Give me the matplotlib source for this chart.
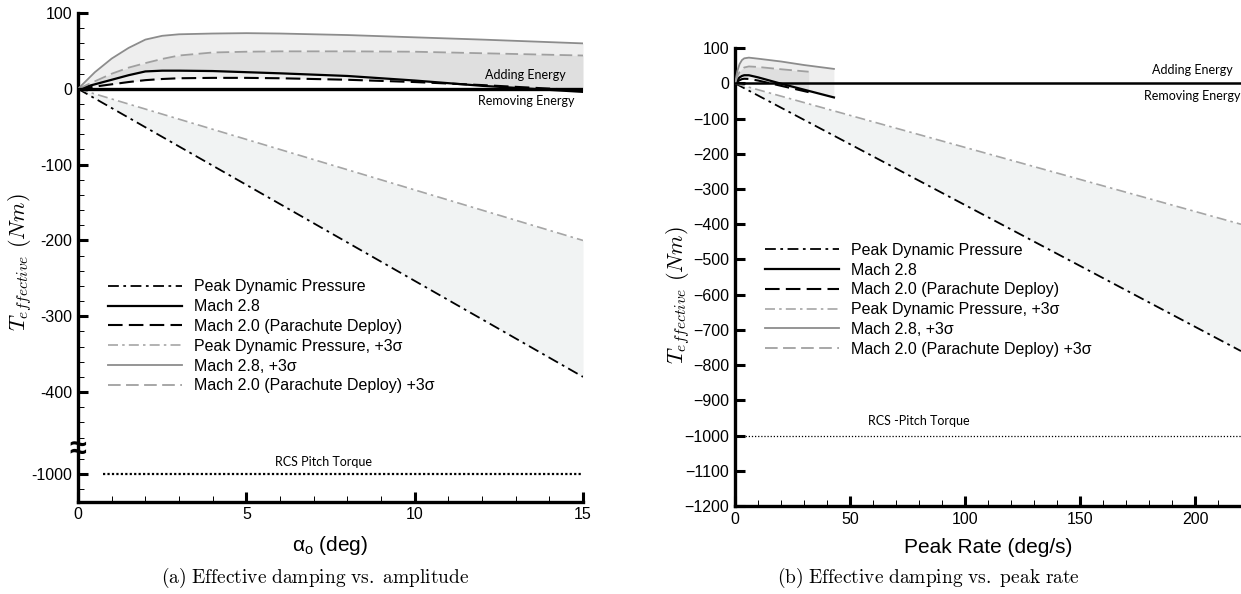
import matplotlib
matplotlib.use("Agg")
import matplotlib.pyplot as plt
import numpy as np
from matplotlib.lines import Line2D
from matplotlib.ticker import FixedLocator, MultipleLocator

plt.rcParams["font.family"] = ["Liberation Sans", "DejaVu Sans"]
plt.rcParams["mathtext.fontset"] = "cm"

# (a) effective damping torque vs. oscillation amplitude (deg)
ALPHA = [0, 0.5, 1, 1.5, 2, 2.5, 3, 4, 5, 6, 8, 10, 12, 15]
M28_A = [0, 6, 12, 18, 23, 24, 24, 23.5, 22, 20.5, 17, 11, 4, -4]
M20_A = [0, 3, 6, 9, 11.5, 13, 14, 14.5, 14.5, 14, 12, 9, 5, -2]
M28_3S_A = [0, 22, 40, 54, 65, 70, 72, 73, 73.5, 73, 71, 68, 65, 60]
M20_3S_A = [0, 10, 20, 28, 34, 39.5, 44, 48, 49, 49.5, 49.5, 49, 47, 44]
QBAR_X_A = [0, 15]
QBAR_A = [0, -380]
QBAR_3S_A = [0, -200]

# (b) effective damping torque vs. peak pitch rate (deg/s)
RATE_M28 = [0, 1, 2, 3, 4, 6, 10, 20, 30, 43]
M28_B = [0, 10, 17, 21, 23, 23, 17, -1, -18, -40]
M28_3S_B = [0, 35, 55, 66, 71, 73, 70, 62, 52, 41]
RATE_M20 = [0, 1, 2, 3, 4, 6, 10, 20, 32]
M20_B = [0, 5, 9, 12, 13, 12.5, 8, -7, -25]
M20_3S_B = [0, 20, 33, 41, 45, 48, 46.5, 40, 33]
QBAR_X_B = [0, 220]
QBAR_B = [0, -760]
QBAR_3S_B = [0, -400]

RCS_TORQUE = -1000
LABELS = [
    "Peak Dynamic Pressure",
    "Mach 2.8",
    "Mach 2.0 (Parachute Deploy)",
    "Peak Dynamic Pressure, +3σ",
    "Mach 2.8, +3σ",
    "Mach 2.0 (Parachute Deploy) +3σ",
]
YLABEL = r"$T_{\mathit{effective}}\ (Nm)$"

# left panel uses a broken y axis: everything below the break is shifted up
BREAK_AT = -471
BREAK_SHIFT = 492


def squash(v):
    v = np.asarray(v, dtype=float)
    return np.where(v < BREAK_AT, v + BREAK_SHIFT, v)


DASHDOT = (0, (6, 2.5, 1.5, 2.5))
DASHED = (0, (7, 3))
STYLES = [
    dict(color="black", lw=1.3, ls=DASHDOT),
    dict(color="black", lw=1.6, ls="-"),
    dict(color="black", lw=1.5, ls=DASHED),
    dict(color="#a6a6a6", lw=1.2, ls=DASHDOT),
    dict(color="#8c8c8c", lw=1.3, ls="-"),
    dict(color="#a0a0a0", lw=1.3, ls=DASHED),
]
BAND = dict(color="#808080", alpha=0.13, lw=0)
QBAR_FILL = "#f1f3f3"
NARROW = ["Lato", "DejaVu Sans"]


def style_axes(ax):
    for side in ("top", "right"):
        ax.spines[side].set_visible(False)
    for side in ("left", "bottom"):
        ax.spines[side].set_linewidth(2.4)
    ax.tick_params(which="major", direction="in", length=7, width=2.2, labelsize=11.5, pad=4)
    ax.tick_params(which="minor", direction="in", length=4, width=0.7)


def draw_curves(ax, x28, m28, m28s, x20, m20, m20s, xq, q, qs, yfun=lambda v: v):
    ax.fill_between(xq, yfun(q), yfun(qs), color=QBAR_FILL, lw=0, zorder=1)
    ax.fill_between(x28, yfun(m28), yfun(m28s), zorder=1, **BAND)
    ax.fill_between(x20, yfun(m20), yfun(m20s), zorder=1, **BAND)
    ax.plot(xq, yfun(q), zorder=3, **STYLES[0])
    ax.plot(x28, yfun(m28), zorder=3, **STYLES[1])
    ax.plot(x20, yfun(m20), zorder=3, **STYLES[2])
    ax.plot(xq, yfun(qs), zorder=3, **STYLES[3])
    ax.plot(x28, yfun(m28s), zorder=3, **STYLES[4])
    ax.plot(x20, yfun(m20s), zorder=3, **STYLES[5])


def add_legend(ax, anchor):
    handles = [Line2D([], [], **s) for s in STYLES]
    ax.legend(handles, LABELS, loc="upper left", bbox_to_anchor=anchor, frameon=False,
              fontsize=11.5, handlelength=4.6, handletextpad=0.75, labelspacing=0.3,
              borderpad=0, borderaxespad=0)


fig = plt.figure(figsize=(12.41, 5.94), dpi=100)

# ---- (a) amplitude ----
ax1 = fig.add_axes([0.0629, 0.155, 0.4069, 0.823])
draw_curves(ax1, ALPHA, M28_A, M28_3S_A, ALPHA, M20_A, M20_3S_A,
            QBAR_X_A, QBAR_A, QBAR_3S_A, yfun=squash)
ax1.axhline(0, color="black", lw=2.4, zorder=4)
ax1.plot([0.75, 15], squash([RCS_TORQUE, RCS_TORQUE]), color="black", lw=1.6, ls=(0, (1, 1)), zorder=3)
ax1.text(7.3, squash(RCS_TORQUE) + 8, "RCS Pitch Torque", ha="center", va="bottom",
         fontsize=9, family=NARROW)
ax1.text(13.3, 10, "Adding Energy", ha="center", va="bottom", fontsize=9, family=NARROW)
ax1.text(13.3, -8, "Removing Energy", ha="center", va="top", fontsize=9, family=NARROW)

major_a = [100, 0, -100, -200, -300, -400, RCS_TORQUE]
minor_a = [v for v in range(80, -470, -20) if v % 100] + [-980, -1020]
ax1.yaxis.set_major_locator(FixedLocator(squash(major_a)))
ax1.yaxis.set_minor_locator(FixedLocator(squash(minor_a)))
ax1.set_yticklabels([str(v) for v in major_a])
ax1.set_ylim(squash(-1037), 100)
ax1.set_xlim(0, 15)
ax1.xaxis.set_major_locator(MultipleLocator(5))
ax1.xaxis.set_minor_locator(MultipleLocator(1))
style_axes(ax1)
ax1.text(0, BREAK_AT - 6, "≈", ha="center", va="center", fontsize=22, fontweight="bold",
         zorder=6, clip_on=False)
ax1.set_xlabel(r"$\mathregular{\alpha_o}$ (deg)", fontsize=15, labelpad=8)
ax1.set_ylabel(YLABEL, fontsize=16)
ax1.yaxis.set_label_coords(-0.088, 0.49)
add_legend(ax1, (0.06, 0.455))

# ---- (b) peak rate ----
ax2 = fig.add_axes([0.5923, 0.148, 0.4077, 0.771])
draw_curves(ax2, RATE_M28, M28_B, M28_3S_B, RATE_M20, M20_B, M20_3S_B,
            QBAR_X_B, QBAR_B, QBAR_3S_B)
ax2.axhline(0, color="black", lw=1.8, zorder=4)
ax2.plot([3, 220], [RCS_TORQUE, RCS_TORQUE], color="black", lw=0.9, ls=(0, (1, 1.5)), zorder=3)
ax2.text(80, RCS_TORQUE + 25, "RCS -Pitch Torque", ha="center", va="bottom",
         fontsize=9, family=NARROW)
ax2.text(199, 22, "Adding Energy", ha="center", va="bottom", fontsize=9, family=NARROW)
ax2.text(199, -20, "Removing Energy", ha="center", va="top", fontsize=9, family=NARROW)
ax2.set_xlim(0, 220)
ax2.set_ylim(-1200, 100)
ax2.xaxis.set_major_locator(MultipleLocator(50))
ax2.xaxis.set_minor_locator(MultipleLocator(10))
ax2.yaxis.set_major_locator(MultipleLocator(100))
style_axes(ax2)
ax2.set_xlabel("Peak Rate (deg/s)", fontsize=15, labelpad=8)
ax2.set_ylabel(YLABEL, fontsize=16)
ax2.yaxis.set_label_coords(-0.085, 0.46)
add_legend(ax2, (0.06, 0.575))

fig.text(0.254, 0.027, r"$\mathrm{(a)\ Effective\ damping\ vs.\ amplitude}$",
         ha="center", va="center", fontsize=14)
fig.text(0.748, 0.027, r"$\mathrm{(b)\ Effective\ damping\ vs.\ peak\ rate}$",
         ha="center", va="center", fontsize=14)

fig.savefig("out.png", dpi=100)
